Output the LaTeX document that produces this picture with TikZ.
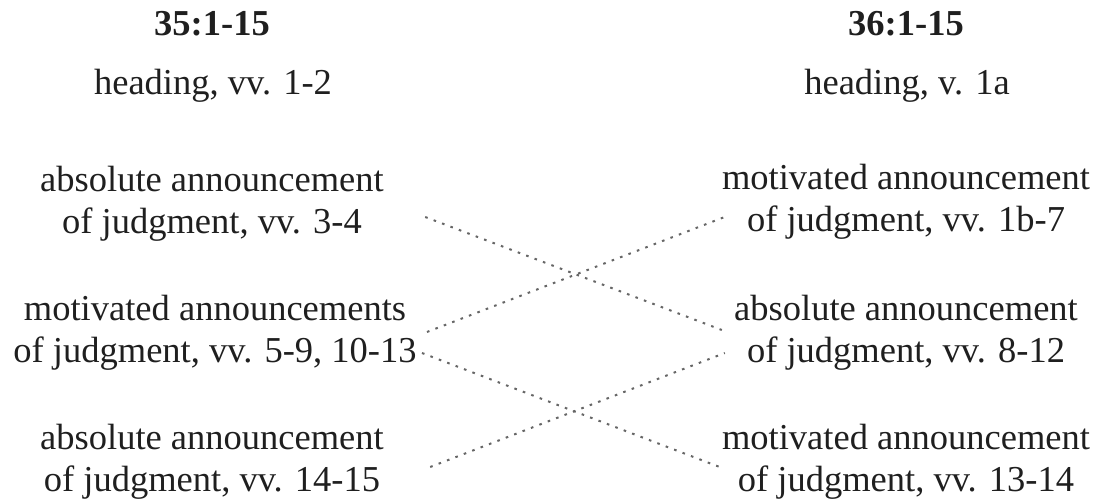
\documentclass[tikz,border=0pt]{standalone}
\usepackage{fontspec}
\setmainfont{Liberation Serif}
\usetikzlibrary{calc}
\begin{document}
\begin{tikzpicture}[x=0.5pt,y=-0.5pt,
  txt/.style={inner sep=0pt, align=center, text=black!88,
    font=\fontsize{18.25}{21}\selectfont},
  ttl/.style={inner sep=0pt, anchor=base, text=black!88,
    font=\fontsize{18.25}{21}\selectfont\bfseries},
  hd/.style={txt, anchor=base},
  conn/.style={draw=black!60, line width=1pt, dash pattern=on 1.3pt off 3.2pt}]
\useasboundingbox (0,0) rectangle (1097,501);
% titles
\node[ttl] (T1) at (212,36) {35:1-15};
\node[ttl] (T2) at (906,36) {36:1-15};
% headings
\node[hd] (H1) at (213,95) {heading, vv. 1-2};
\node[hd] (H2) at (907,95) {heading, v. 1a};
% left column
\node[txt] (L1) at (212,203.5) {absolute announcement\\of judgment, vv. 3-4};
\node[txt] (L2) at (215,332.5) {motivated announcements\\of judgment, vv. 5-9, 10-13};
\node[txt] (L3) at (212,462) {absolute announcement\\of judgment, vv. 14-15};
% right column
\node[txt] (R1) at (906,201.5) {motivated announcement\\of judgment, vv. 1b-7};
\node[txt] (R2) at (906,333) {absolute announcement\\of judgment, vv. 8-12};
\node[txt] (R3) at (906,461.5) {motivated announcement\\of judgment, vv. 13-14};
% connectors
\draw[conn] ($(L1.east)+(41,13.5)$) -- ($(R2.west)+(-12,-3)$);
\draw[conn] ($(L2.east)+(10,-0.5)$) -- ($(R1.west)+(3,15.5)$);
\draw[conn] ($(L2.east)+(5,20.5)$) -- ($(R3.west)+(-2,5.5)$);
\draw[conn] ($(L3.east)+(46,5)$) -- ($(R2.west)+(-9,20)$);
\end{tikzpicture}
\end{document}
